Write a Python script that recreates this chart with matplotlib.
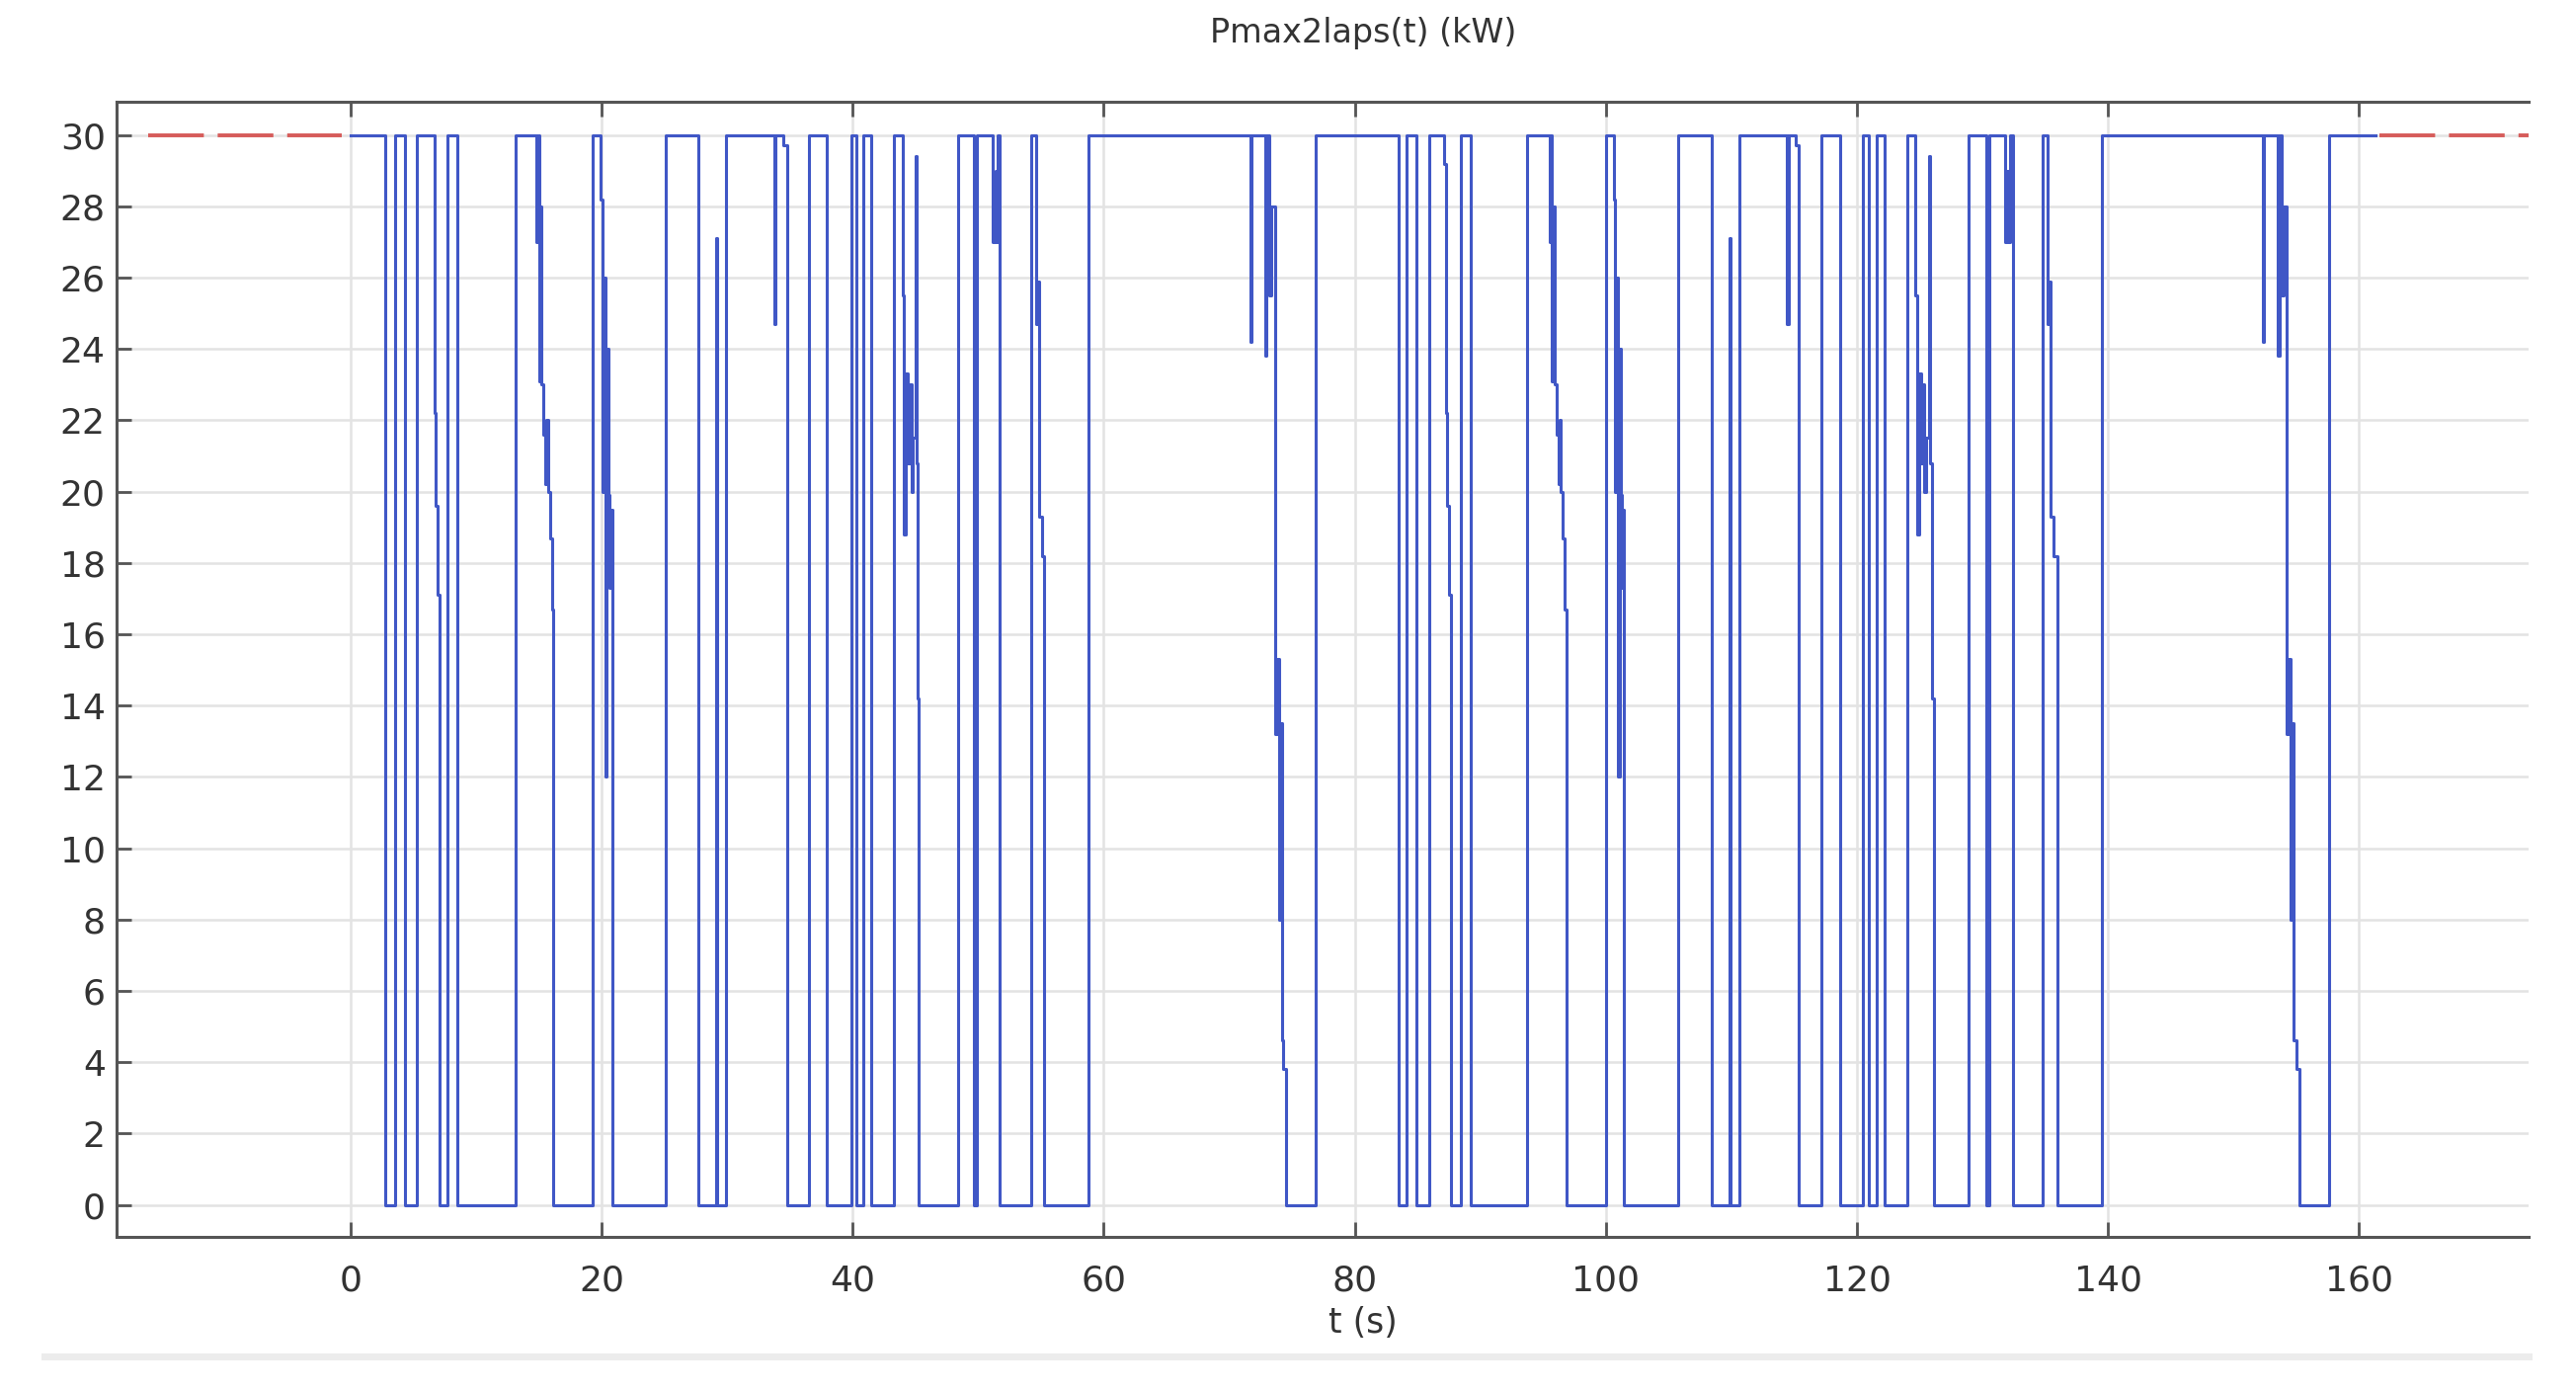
import matplotlib
matplotlib.use("Agg")
import matplotlib.pyplot as plt
from matplotlib.lines import Line2D

# step breakpoints (s) and values (kW), first lap
t_lap1 = [0.00, 2.76, 3.54, 4.33, 5.25, 6.69, 6.80, 6.92, 7.09, 7.74, 8.53,
          13.12, 14.83, 14.93, 15.01, 15.12, 15.22, 15.38, 15.50, 15.62, 15.74,
          15.90, 16.02, 16.14, 19.29, 19.95, 20.05, 20.17, 20.28, 20.40, 20.52,
          20.64, 20.75, 20.87, 25.07, 27.69, 29.13, 29.22, 29.92, 33.73, 33.85,
          34.50, 34.78, 36.48, 37.93, 39.90, 40.29, 40.81, 41.47, 43.31, 43.96,
          44.08, 44.23, 44.38, 44.52, 44.66, 44.80, 45.01, 45.10, 45.19, 45.28,
          48.43, 49.66, 49.92, 51.18, 51.35, 51.45, 51.55, 51.71, 54.20, 54.59,
          54.72, 54.85, 55.05, 55.25, 58.80, 71.65, 71.77, 72.83, 72.97, 73.15,
          73.35, 73.62, 73.80, 73.95, 74.05, 74.18, 74.32, 74.54, 76.90]
p_lap1 = [30, 0, 30, 0, 30, 22.2, 19.6, 17.1, 0, 30, 0,
          30, 27.0, 30, 23.1, 28.0, 23.0, 21.6, 20.2, 22.0, 20.0,
          18.7, 16.7, 0, 30, 28.2, 20.0, 26.0, 12.0, 24.0, 19.9,
          17.3, 19.5, 0, 30, 0, 27.1, 0, 30, 24.7, 30,
          29.7, 0, 30, 0, 30, 0, 30, 0, 30, 25.5,
          18.8, 23.3, 20.8, 23.0, 20.0, 21.5, 29.4, 20.8, 14.2, 0,
          30, 0, 30, 27.0, 29.0, 27.0, 30, 0, 30, 24.7,
          25.9, 19.3, 18.2, 0, 30, 24.2, 30, 23.8, 30, 25.5,
          28.0, 13.2, 15.3, 8.0, 13.5, 4.6, 3.8, 0, 30]

# second lap
t_lap2 = [83.46, 84.12, 84.91, 85.96, 87.14, 87.25, 87.38, 87.50, 87.66, 88.45,
          89.24, 93.70, 95.54, 95.64, 95.72, 95.83, 95.93, 96.08, 96.20, 96.30,
          96.42, 96.58, 96.70, 96.85, 100.00, 100.65, 100.75, 100.87, 100.98,
          101.10, 101.20, 101.30, 101.38, 101.44, 105.77, 108.40, 109.84, 109.93,
          110.63, 114.43, 114.55, 115.10, 115.35, 117.19, 118.64, 120.47, 120.92,
          121.60, 122.23, 124.02, 124.67, 124.80, 124.94, 125.08, 125.22, 125.35,
          125.50, 125.72, 125.85, 126.00, 126.12, 128.87, 130.31, 130.57, 131.76,
          131.95, 132.05, 132.20, 132.42, 134.78, 135.17, 135.30, 135.45, 135.69,
          135.96, 139.50, 152.30, 152.42, 153.54, 153.68, 153.85, 154.02, 154.20,
          154.38, 154.52, 154.62, 154.80, 154.98, 155.25, 157.61, 161.30]
p_lap2 = [0, 30, 0, 30, 29.2, 22.2, 19.6, 17.1, 0, 30,
          0, 30, 27.0, 30, 23.1, 28.0, 23.0, 21.6, 20.2, 22.0,
          20.0, 18.7, 16.7, 0, 30, 28.2, 20.0, 26.0, 12.0,
          24.0, 19.9, 17.3, 19.5, 0, 30, 0, 27.1, 0,
          30, 24.7, 30, 29.7, 0, 30, 0, 30, 0,
          30, 0, 30, 25.5, 18.8, 23.3, 20.8, 23.0, 20.0,
          21.5, 29.4, 20.8, 14.2, 0, 30, 0, 30, 27.0,
          29.0, 27.0, 30, 0, 30, 24.7, 25.9, 19.3, 18.2,
          0, 30, 24.2, 30, 23.8, 30, 25.5, 28.0, 13.2,
          15.3, 8.0, 13.5, 4.6, 3.8, 0, 30, 30]

# constant extrapolation outside the data range
t_extrap_left = [-16.1, -0.7]
t_extrap_right = [161.65, 173.5]
p_extrap = [30, 30]

x_ticks = list(range(0, 161, 20))
y_ticks = list(range(0, 31, 2))

BLUE = "#4057c6"
RED = "#d65c5a"
SPINE = "#555555"

plt.rcParams["font.family"] = "DejaVu Sans"

fig = plt.figure(figsize=(26.08, 14.08), dpi=100)
ax = fig.add_axes([0.0452, 0.1108, 0.9364, 0.816])

ax.step(t_lap1 + t_lap2, p_lap1 + p_lap2, where="post", color=BLUE, lw=2.2,
        zorder=3)
for tt in (t_extrap_left, t_extrap_right):
    ax.plot(tt, p_extrap, color=RED, lw=2.8, dashes=(14.5, 3.6), zorder=3)

ax.set_xlim(-18.65, 173.5)
ax.set_ylim(-0.9, 30.93)
ax.set_xticks(x_ticks)
ax.set_yticks(y_ticks)
ax.grid(True, color="#e3e3e3", lw=1.8, zorder=0)

for side in ("left", "top", "bottom"):
    ax.spines[side].set_color(SPINE)
    ax.spines[side].set_linewidth(2.2)
ax.spines["right"].set_visible(False)
ax.tick_params(axis="both", direction="in", length=11, width=2, color=SPINE,
               labelsize=26, labelcolor="#333333")
ax.tick_params(axis="x", top=True, pad=20)
ax.tick_params(axis="y", pad=8)

fig.text(1380 / 2608, 1 - 33 / 1408, "Pmax2laps(t) (kW)", ha="center",
         va="center", fontsize=24, color="#333333")
fig.text(1380 / 2608, 1 - 1339 / 1408, "t (s)", ha="center", va="center",
         fontsize=25, color="#333333")
fig.add_artist(Line2D([45 / 2608, 2560 / 2608], [1 - 1373 / 1408] * 2,
                      color="#ececec", lw=5, transform=fig.transFigure))

fig.savefig("out.png", dpi=100, facecolor="white")
